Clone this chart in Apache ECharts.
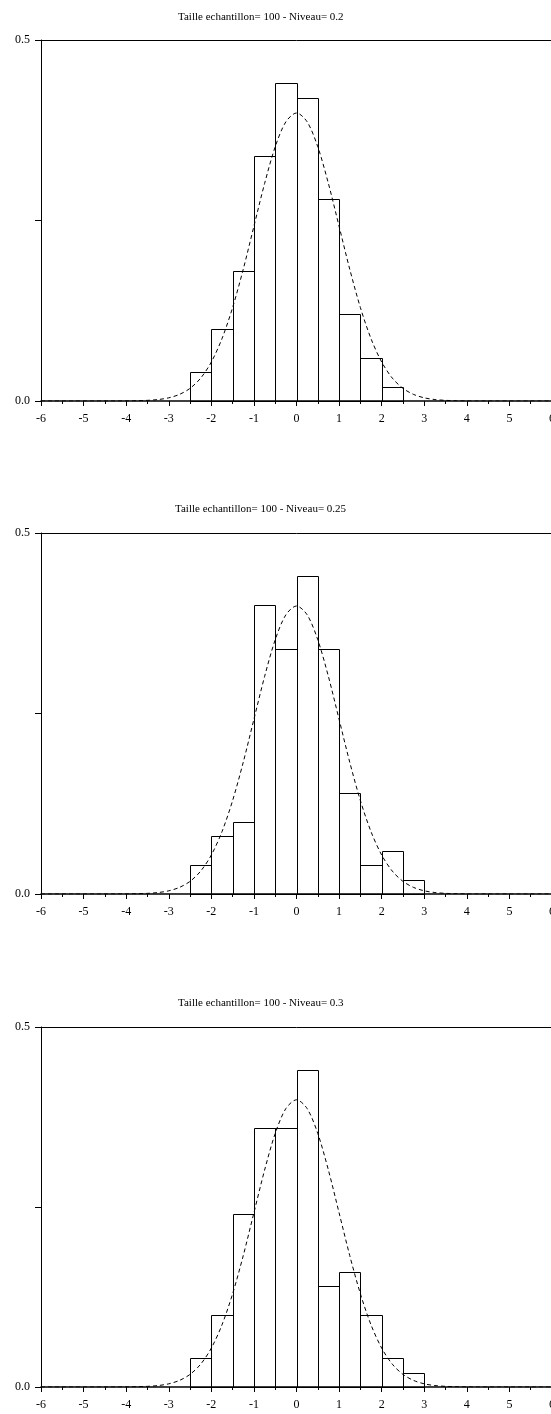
<!DOCTYPE html>
<html>
<head>
<meta charset="utf-8">
<script src="https://cdn.jsdelivr.net/npm/echarts@6/dist/echarts.min.js"></script>
<style>
  html, body { margin: 0; padding: 0; background: #ffffff; }
  #chart { width: 551px; height: 1414px; }
</style>
</head>
<body>
<div id="chart"></div>
<script>
// Histogram bins (width 0.5) shared by the three samples
const binEdges = [-2.5, -2, -1.5, -1, -0.5, 0, 0.5, 1, 1.5, 2, 2.5, 3];

// Density of each bin (count / (n * width)), one list per level
const niveaux = ['0.2', '0.25', '0.3'];
const tailleEchantillon = 100;
const densite02  = [0.04, 0.10, 0.18, 0.34, 0.44, 0.42, 0.28, 0.12, 0.06, 0.02, 0.00];
const densite025 = [0.04, 0.08, 0.10, 0.40, 0.34, 0.44, 0.34, 0.14, 0.04, 0.06, 0.02];
const densite03  = [0.04, 0.10, 0.24, 0.36, 0.36, 0.44, 0.14, 0.16, 0.10, 0.04, 0.02];
const densites = [densite02, densite025, densite03];

// Standard normal density, tabulated every 0.25
const courbeX = [-6, -5.75, -5.5, -5.25, -5, -4.75, -4.5, -4.25, -4, -3.75, -3.5, -3.25,
  -3, -2.75, -2.5, -2.25, -2, -1.75, -1.5, -1.25, -1, -0.75, -0.5, -0.25, 0,
  0.25, 0.5, 0.75, 1, 1.25, 1.5, 1.75, 2, 2.25, 2.5, 2.75, 3, 3.25, 3.5, 3.75,
  4, 4.25, 4.5, 4.75, 5, 5.25, 5.5, 5.75, 6];
const courbeY = [0, 0, 0, 0, 0, 0, 0, 0, 0.0001, 0.0004, 0.0009, 0.0020,
  0.0044, 0.0091, 0.0175, 0.0317, 0.0540, 0.0863, 0.1295, 0.1826, 0.2420, 0.3011, 0.3521, 0.3867, 0.3989,
  0.3867, 0.3521, 0.3011, 0.2420, 0.1826, 0.1295, 0.0863, 0.0540, 0.0317, 0.0175, 0.0091, 0.0044, 0.0020, 0.0009, 0.0004,
  0.0001, 0, 0, 0, 0, 0, 0, 0, 0];

// Axis ranges and tick labels
const xMin = -6, xMax = 6, xStep = 1;
const yMin = 0, yMax = 0.5, yStep = 0.25;
const yLabels = { 0: '0.0', 0.5: '0.5' };

const FONT = 'Liberation Serif';
const panelTops = [40, 533, 1027];
const panelHeights = [361, 361, 360];
const titleTops = [7, 499, 993];
const titleLefts = [173, 170, 173];

const chart = echarts.init(document.getElementById('chart'), null, { renderer: 'canvas' });

const grids = [], xAxes = [], yAxes = [], series = [], titles = [];

densites.forEach((dens, i) => {
  grids.push({
    left: 41, top: panelTops[i], width: 511, height: panelHeights[i],
    containLabel: false, outerBoundsMode: 'none'
  });

  titles.push({
    text: 'Taille echantillon= ' + tailleEchantillon + ' - Niveau= ' + niveaux[i],
    left: titleLefts[i], top: titleTops[i],
    textStyle: { fontFamily: FONT, fontSize: 11, fontWeight: 'normal', color: '#000' }
  });

  // bottom value axis
  xAxes.push({
    type: 'value', gridIndex: i, min: xMin, max: xMax, interval: xStep,
    axisLine: { show: true, onZero: false, lineStyle: { color: '#000', width: 1.5 } },
    axisTick: { show: true, length: 5, lineStyle: { color: '#000', width: 1 } },
    minorTick: { show: true, splitNumber: 2, length: 3, lineStyle: { color: '#000', width: 1 } },
    axisLabel: { show: true, margin: 12, fontFamily: FONT, fontSize: 12, color: '#000',
                 showMinLabel: true, showMaxLabel: true, hideOverlap: false },
    splitLine: { show: false }
  });
  // top frame line
  xAxes.push({
    type: 'value', gridIndex: i, position: 'top', min: xMin, max: xMax,
    axisLine: { show: true, onZero: false, lineStyle: { color: '#000', width: 1 } },
    axisTick: { show: false }, axisLabel: { show: false }, splitLine: { show: false }
  });

  yAxes.push({
    type: 'value', gridIndex: i, min: yMin, max: yMax, interval: yStep,
    axisLine: { show: true, onZero: false, lineStyle: { color: '#000', width: 1 } },
    axisTick: { show: true, length: 6, lineStyle: { color: '#000', width: 1 } },
    axisLabel: {
      show: true, margin: 11, fontFamily: FONT, fontSize: 12, color: '#000',
      formatter: v => (yLabels[v] !== undefined ? yLabels[v] : '')
    },
    splitLine: { show: false }
  });

  const histData = dens.map((d, k) => [binEdges[k], binEdges[k + 1], d]).filter(r => r[2] > 0);

  series.push({
    type: 'custom',
    xAxisIndex: 2 * i, yAxisIndex: i,
    dimensions: ['x0', 'x1', 'densite'],
    encode: { x: [0, 1], y: 2 },
    data: histData,
    z: 2,
    silent: true,
    renderItem: (params, api) => {
      const topLeft = api.coord([api.value(0), api.value(2)]);
      const botRight = api.coord([api.value(1), 0]);
      const x0 = Math.round(topLeft[0]) + 0.5;
      const x1 = Math.round(botRight[0]) + 0.5;
      const y0 = Math.round(topLeft[1]) + 0.5;
      const y1 = Math.round(botRight[1]) + 0.5;
      return {
        type: 'rect',
        shape: { x: x0, y: y0, width: x1 - x0, height: y1 - y0 },
        style: { fill: 'none', stroke: '#000', lineWidth: 1 }
      };
    }
  });

  series.push({
    type: 'line',
    xAxisIndex: 2 * i, yAxisIndex: i,
    data: courbeX.map((x, k) => [x, courbeY[k]]),
    showSymbol: false,
    smooth: 0.3,
    z: 3,
    silent: true,
    lineStyle: { color: '#000', width: 1, type: [4, 3] }
  });
});

chart.setOption({
  animation: false,
  backgroundColor: '#ffffff',
  title: titles,
  grid: grids,
  xAxis: xAxes,
  yAxis: yAxes,
  series: series
});
</script>
</body>
</html>
